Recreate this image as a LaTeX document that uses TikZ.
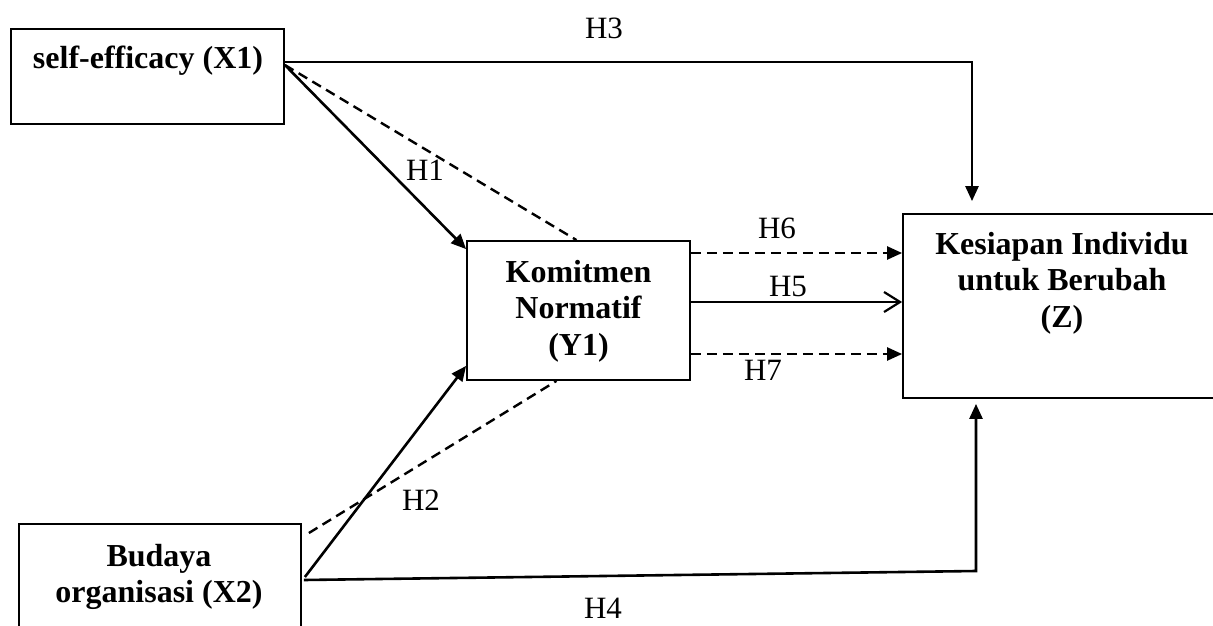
\documentclass[tikz,border=0pt]{standalone}
\usepackage{fontspec}
\setmainfont{Liberation Serif}
\usetikzlibrary{arrows.meta,calc}
\begin{document}
\begin{tikzpicture}[x=1pt,y=-1pt,
  box/.style={draw,line width=1.8pt,inner sep=0pt,rectangle},
  btext/.style={font=\fontsize{32}{36.5}\selectfont\bfseries,align=center,inner sep=0pt},
  hlab/.style={font=\fontsize{31}{34}\selectfont,inner sep=0pt},
  conn/.style={line width=2.6pt,-{Triangle[length=15pt,width=13pt]}},
  dconn/.style={line width=2.4pt,dash pattern=on 10pt off 6pt},
  oconn/.style={line width=2.4pt,-{Straight Barb[length=16pt,width=20pt,line width=2.2pt]}}
]
\clip (0,0) rectangle (1213,626);
\fill[white] (0,0) rectangle (1213,626);

% boxes
\node[box,minimum width=273pt,minimum height=95pt] (x1) at (147.5,76.5) {};
\node[btext] (tx1) at (148,61) {self-efficacy (X1)};
\node[box,minimum width=223pt,minimum height=139pt] (y1) at (578.5,310.5) {};
\node[btext] (ty1) at (578.5,311) {Komitmen\\Normatif\\(Y1)};
\node[box,minimum width=322pt,minimum height=184pt] (z) at (1064,306) {};
\node[btext] (tz) at (1062,283) {Kesiapan Individu\\untuk Berubah\\(Z)};
\node[box,minimum width=282pt,minimum height=116pt] (x2) at (160,582) {};
\node[btext] (tx2) at (159,577) {Budaya\\organisasi (X2)};

% connectors
\coordinate (h4c) at (976,571);
\draw[conn] ([yshift=14.5pt]x1.east) -| ([xshift=-92pt,yshift=12pt]z.north);
\draw[conn] ([yshift=11.5pt]x1.east) -- ([yshift=-9pt]y1.north west);
\draw[dconn] ([yshift=11.5pt]x1.east) -- ([xshift=-2pt]y1.north);
\draw[conn] ([xshift=3pt,yshift=5pt]x2.east) -- ([yshift=15pt]y1.south west);
\draw[dconn] ([xshift=7pt,yshift=49pt]x2.east) -- ([xshift=-22pt]y1.south);
\draw[conn] ([xshift=2pt,yshift=2pt]x2.east) -- (h4c) -- ([xshift=-88pt,yshift=-5pt]z.south);
\draw[oconn] ([yshift=8.5pt]y1.east) -- ([yshift=8.5pt]y1.east -| z.west);
\draw[dconn,-{Triangle[length=15pt,width=13pt]}] ([yshift=57.5pt]y1.east) -- ([yshift=57.5pt]y1.east -| z.west);
\draw[dconn,-{Triangle[length=15pt,width=13pt]}] ([yshift=-43.5pt]y1.east) -- ([yshift=-43.5pt]y1.east -| z.west);

% labels
\node[hlab] (lh3) at (604,28) {H3};
\node[hlab] (lh1) at (425,170) {H1};
\node[hlab] (lh6) at (777,228) {H6};
\node[hlab] (lh5) at (788,286) {H5};
\node[hlab] (lh7) at (763,370) {H7};
\node[hlab] (lh2) at (421,500) {H2};
\node[hlab] (lh4) at (603,608) {H4};
\end{tikzpicture}
\end{document}
